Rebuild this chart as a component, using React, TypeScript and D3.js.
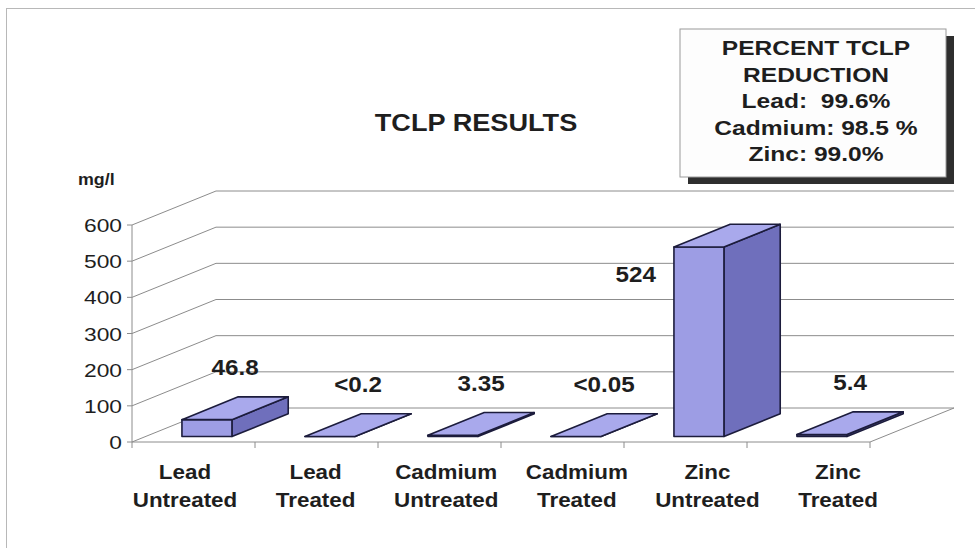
import React, { useEffect, useRef } from "react";
import * as d3 from "d3";

// chart values
const categories = [
  "Lead Untreated",
  "Lead Treated",
  "Cadmium Untreated",
  "Cadmium Treated",
  "Zinc Untreated",
  "Zinc Treated",
];
const values = [46.8, 0.2, 3.35, 0.05, 524, 5.4];
const valueLabels = ["46.8", "<0.2", "3.35", "<0.05", "524", "5.4"];
const yTicks = [0, 100, 200, 300, 400, 500, 600];
const chartTitle = "TCLP RESULTS";
const unitLabel = "mg/l";
const reductionLines = [
  "PERCENT TCLP",
  "REDUCTION",
  "Lead:  99.6%",
  "Cadmium: 98.5 %",
  "Zinc: 99.0%",
];

const FONT = "'Liberation Sans', Arial, sans-serif";

const Chart3D = ({ width, height }) => {
  const svgRef = useRef();

  useEffect(() => {
    const svg = d3.select(svgRef.current);
    svg.selectAll("*").remove();

    // front plane of the plot and the depth offset of the back wall
    const left = 132;
    const right = 870;
    const depthX = 84;
    const depthY = -34;

    const xScale = d3.scaleBand().domain(categories).range([left, right]);
    const yScale = d3.scaleLinear().domain([0, 600]).range([442, 225]);

    // project (x on front plane, value, depth 0..1) to screen
    const proj = (x, v, z) => [x + z * depthX, yScale(v) + z * depthY];

    const text = (g, x, y, str, opts) => {
      const t = g
        .append("text")
        .attr("transform", `translate(${x},${y}) scale(${opts.sx || 1},1)`)
        .attr("text-anchor", opts.anchor || "middle")
        .style("font-family", FONT)
        .style("font-size", `${opts.size}px`)
        .style("font-weight", opts.weight || "bold")
        .style("white-space", "pre")
        .attr("fill", opts.fill || "#1e1e1e")
        .text(str);
      return t;
    };

    // outer frame
    svg
      .append("rect")
      .attr("x", 6.5)
      .attr("y", 8.5)
      .attr("width", width + 20)
      .attr("height", height + 20)
      .attr("fill", "none")
      .attr("stroke", "#b8b8b8");

    const grid = svg.append("g").attr("stroke", "#8c8c8c").attr("fill", "none");

    // back wall gridlines and left wall slants
    yTicks.forEach((t) => {
      const [bx0, by] = proj(left, t, 1);
      const [bx1] = proj(right, t, 1);
      grid
        .append("line")
        .attr("x1", bx0)
        .attr("y1", by)
        .attr("x2", bx1)
        .attr("y2", by);
      grid
        .append("line")
        .attr("x1", left)
        .attr("y1", yScale(t))
        .attr("x2", bx0)
        .attr("y2", by);
      grid
        .append("line")
        .attr("x1", left - 5)
        .attr("y1", yScale(t))
        .attr("x2", left)
        .attr("y2", yScale(t));
    });

    // front axis, floor edges
    grid
      .append("line")
      .attr("x1", left)
      .attr("y1", yScale(600))
      .attr("x2", left)
      .attr("y2", yScale(0));
    grid
      .append("line")
      .attr("x1", left)
      .attr("y1", yScale(0))
      .attr("x2", right)
      .attr("y2", yScale(0));
    const [fx, fy] = proj(right, 0, 1);
    grid
      .append("line")
      .attr("x1", right)
      .attr("y1", yScale(0))
      .attr("x2", fx)
      .attr("y2", fy);

    // category ticks below the floor
    d3.range(categories.length + 1).forEach((i) => {
      const x = left + i * xScale.step();
      grid
        .append("line")
        .attr("x1", x)
        .attr("y1", yScale(0))
        .attr("x2", x)
        .attr("y2", yScale(0) + 6);
    });

    // y tick labels
    yTicks.forEach((t) => {
      text(svg, left - 10, yScale(t) + 7, String(t), {
        size: 19,
        sx: 1.2,
        anchor: "end",
        weight: "normal",
      });
    });

    text(svg, 78, 185, unitLabel, { size: 17, anchor: "start", sx: 1.05 });
    text(svg, 476, 131, chartTitle, { size: 23, sx: 1.18 });

    // bars as boxes: front at depth z0, back at z1
    const z0 = 0.16;
    const z1 = 0.83;
    const barW = 50;
    const pts = (arr) => arr.map((p) => p.join(",")).join(" ");
    const bars = svg.append("g").attr("stroke", "#1c1c3c").attr("stroke-width", 1.6).attr("stroke-linejoin", "round");

    categories.forEach((c, i) => {
      const cx = xScale(c) + xScale.bandwidth() / 2;
      const xl = cx - barW / 2;
      const xr = cx + barW / 2;
      const v = values[i];
      const fl0 = proj(xl, 0, z0);
      const fr0 = proj(xr, 0, z0);
      const flv = proj(xl, v, z0);
      const frv = proj(xr, v, z0);
      const br0 = proj(xr, 0, z1);
      const brv = proj(xr, v, z1);
      const blv = proj(xl, v, z1);

      bars.append("polygon").attr("points", pts([fr0, br0, brv, frv])).attr("fill", "#6f6fbc");
      bars.append("polygon").attr("points", pts([fl0, fr0, frv, flv])).attr("fill", "#9d9de4");
      bars.append("polygon").attr("points", pts([flv, frv, brv, blv])).attr("fill", "#a9a9ec");

      // value label: above the top face, or beside a tall bar
      if (v === d3.max(values)) {
        text(svg, flv[0] - 18, flv[1] + 35, valueLabels[i], { size: 22, sx: 1.1, anchor: "end" });
      } else {
        const mx = (flv[0] + frv[0] + brv[0] + blv[0]) / 4;
        const my = (flv[1] + brv[1]) / 2;
        text(svg, mx, my - 33, valueLabels[i], { size: 22, sx: 1.1 });
      }
    });

    // category labels, two lines each
    const labelX = d3
      .scalePoint()
      .domain(categories)
      .range([left + 53, right - 32]);
    categories.forEach((c) => {
      const [a, b] = c.split(" ");
      text(svg, labelX(c), 479, a, { size: 20, sx: 1.12 });
      text(svg, labelX(c), 507, b, { size: 20, sx: 1.12 });
    });

    // reduction box with drop shadow
    const box = { x: 680, y: 29, w: 266, h: 148 };
    svg
      .append("rect")
      .attr("x", box.x + 8)
      .attr("y", box.y + 7)
      .attr("width", box.w)
      .attr("height", box.h)
      .attr("fill", "#2e2e2e");
    svg
      .append("rect")
      .attr("x", box.x)
      .attr("y", box.y)
      .attr("width", box.w)
      .attr("height", box.h)
      .attr("fill", "#fdfdfd")
      .attr("stroke", "#9a9a9a");
    reductionLines.forEach((line, i) => {
      text(svg, box.x + box.w / 2 + 3, 55 + i * 26.5, line, { size: 21, sx: 1.17 });
    });
  }, [width, height]);

  return (
    <svg
      ref={svgRef}
      width={width}
      height={height}
      style={{ position: "absolute", left: 0, top: 0, background: "#fff" }}
    ></svg>
  );
};

export default function App() {
  return <Chart3D width={975} height={548} />;
}
